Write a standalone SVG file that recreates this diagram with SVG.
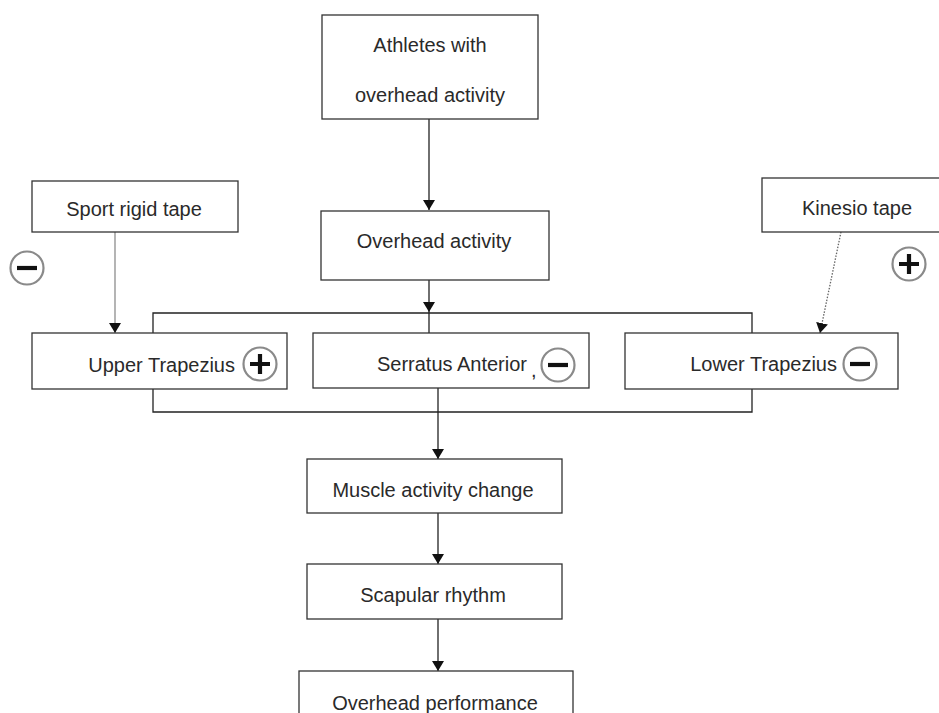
<svg xmlns="http://www.w3.org/2000/svg" width="939" height="713" viewBox="0 0 939 713">
<defs>
<style>
.box{fill:#fff;stroke:#333;stroke-width:1.3}
.t{font-family:"Liberation Sans",Arial,sans-serif;font-size:20px;fill:#2a2a2a}
.c{text-anchor:middle}
.e{text-anchor:end}
.ln{fill:none;stroke:#222;stroke-width:1.3}
.sc{fill:#fff;stroke:#8a8a8a;stroke-width:2.2}
.sb{fill:none;stroke:#111;stroke-width:4.2}
</style>
<marker id="ah" viewBox="0 0 10 12" refX="10" refY="6" markerWidth="10" markerHeight="12" markerUnits="userSpaceOnUse" orient="auto">
<path d="M0,0 L10,6 L0,12 Z" fill="#111"/>
</marker>
<g id="minus"><circle class="sc" r="16.5" fill="#fff" stroke="#8a8a8a" stroke-width="2.2"/><path class="sb" d="M-10,0 H10" fill="none" stroke="#111" stroke-width="4.2"/></g>
<g id="plus"><circle class="sc" r="16.5" fill="#fff" stroke="#8a8a8a" stroke-width="2.2"/><path class="sb" d="M-10,0 H10 M0,-10 V10" fill="none" stroke="#111" stroke-width="4.2"/></g>
</defs>
<rect width="939" height="713" fill="#fff"/>
<g id="connectors">
<path class="ln" d="M429,119 V210" marker-end="url(#ah)"/>
<path class="ln" d="M429,280 V312" marker-end="url(#ah)"/>
<path class="ln" d="M429,312 V333"/>
<path class="ln" d="M153,333 V313 H752 V333"/>
<path class="ln" d="M153,389 V412 H752 V389"/>
<path class="ln" d="M438,388 V459" marker-end="url(#ah)"/>
<path class="ln" d="M438,513 V564" marker-end="url(#ah)"/>
<path class="ln" d="M438,619 V671" marker-end="url(#ah)"/>
<path d="M115,232 V333" fill="none" stroke="#777" stroke-width="1.1" marker-end="url(#ah)"/>
<path d="M841,232 L820,333" fill="none" stroke="#666" stroke-width="1.3" stroke-dasharray="1.5,1.5" marker-end="url(#ah)"/>
</g>
<g id="athletes"><rect class="box" x="322" y="15" width="216" height="104"/><text class="t c" x="430" y="52">Athletes with</text><text class="t c" x="430" y="102">overhead activity</text></g>
<g id="overhead-activity"><rect class="box" x="321" y="211" width="228" height="69"/><text class="t c" x="434" y="248">Overhead activity</text></g>
<g id="sport-rigid-tape"><rect class="box" x="32" y="181" width="206" height="51"/><text class="t c" x="134" y="216">Sport rigid tape</text></g>
<g id="kinesio-tape"><rect class="box" x="762" y="178" width="180" height="54"/><text class="t c" x="857" y="215">Kinesio tape</text></g>
<g id="upper-trapezius"><rect class="box" x="32" y="333" width="255" height="56"/><text class="t e" x="235" y="372">Upper Trapezius</text></g>
<g id="serratus-anterior"><rect class="box" x="313" y="333" width="276" height="55"/><text class="t e" x="527" y="371">Serratus Anterior</text><text class="t" x="531" y="377" font-size="8">,</text></g>
<g id="lower-trapezius"><rect class="box" x="625" y="333" width="273" height="56"/><text class="t e" x="837" y="371">Lower Trapezius</text></g>
<g id="muscle-activity-change"><rect class="box" x="307" y="459" width="255" height="54"/><text class="t c" x="433" y="497">Muscle activity change</text></g>
<g id="scapular-rhythm"><rect class="box" x="307" y="564" width="255" height="55"/><text class="t c" x="433" y="602">Scapular rhythm</text></g>
<g id="overhead-performance"><rect class="box" x="299" y="671" width="274" height="60"/><text class="t c" x="435" y="710">Overhead performance</text></g>
<g id="signs">
<use href="#minus" x="27" y="268"/>
<use href="#plus" x="909" y="264"/>
<use href="#plus" x="260" y="364"/>
<use href="#minus" x="558" y="365"/>
<use href="#minus" x="860" y="364"/>
</g>
</svg>
